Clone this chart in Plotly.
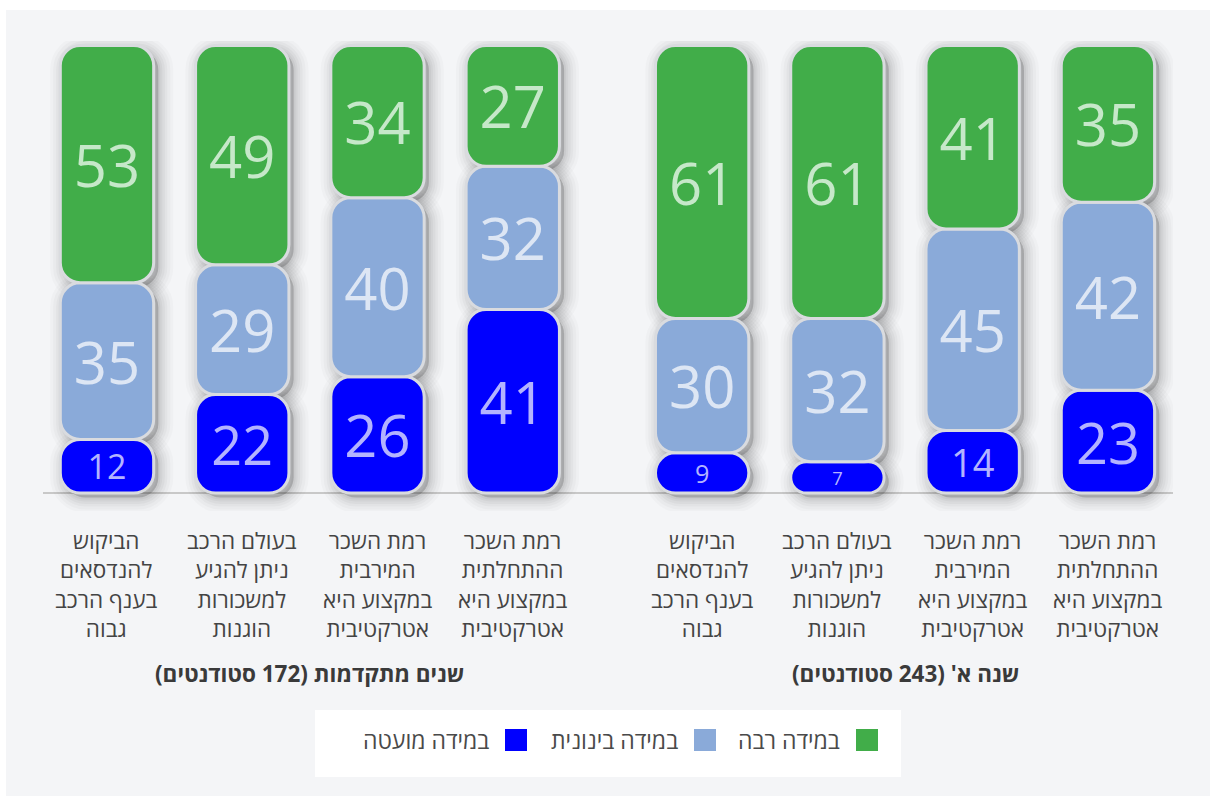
import plotly.graph_objects as go

# ---- data -------------------------------------------------------------
group_titles = ["שנה א' (243 סטודנטים)", "שנים מתקדמות (172 סטודנטים)"]

# statements in reading order (right to left)
statements = [
    "רמת השכר<br>ההתחלתית<br>במקצוע היא<br>אטרקטיבית",
    "רמת השכר<br>המירבית<br>במקצוע היא<br>אטרקטיבית",
    "בעולם הרכב<br>ניתן להגיע<br>למשכורות<br>הוגנות",
    "הביקוש<br>להנדסאים<br>בענף הרכב<br>גבוה",
]

levels = ["במידה רבה", "במידה בינונית", "במידה מועטה"]

first_year_high = [35, 41, 61, 61]
first_year_mid = [42, 45, 32, 30]
first_year_low = [23, 14, 7, 9]

advanced_high = [27, 34, 49, 53]
advanced_mid = [32, 40, 29, 35]
advanced_low = [41, 26, 22, 12]

# ---- styling ------------------------------------------------------------
colors = ["#41ad49", "#8aaad9", "#0000ff"]
label_colors = ["#c6e8c9", "#dde6f4", "#b3b3ff"]
panel_color = "#f4f5f7"
gap_color = "#d9dbdf"
font = "Open Sans, DejaVu Sans, sans-serif"

W, H = 1210, 796
ML, MR, MT, MB = 43, 37, 41, 285
plot_w = W - ML - MR
plot_h = H - MT - MB


def px_x(px):
    return (px - ML) / plot_w


def px_y(py):
    return (H - MB - py) / plot_h


def rtl(s):
    return "\u200f" + s + "\u200f"


# bar slots: first-year group on the right, advanced group on the left,
# each read right to left
group_slots = [[7.4, 6.4, 5.4, 4.4], [3.0, 2.0, 1.0, 0.0]]
xs = group_slots[0] + group_slots[1]

low = first_year_low + advanced_low
mid = first_year_mid + advanced_mid
high = first_year_high + advanced_high

bases = {
    2: [0] * len(low),
    1: list(low),
    0: [a + b for a, b in zip(low, mid)],
}
values = {0: high, 1: mid, 2: low}

bar_width = 0.69
radius = 20

fig = go.Figure()

# soft drop shadows behind every segment, nudged right and down
shadow_dx, shadow_dy = 0.035, 1.0
shadow_layers = [(30, 0.018), (24, 0.022), (18, 0.026), (13, 0.03),
                 (8, 0.034), (4, 0.04)]
for lw, alpha in shadow_layers:
    for k in (2, 1, 0):
        fig.add_trace(go.Bar(
            x=[x + shadow_dx for x in xs],
            y=values[k],
            base=[b - shadow_dy for b in bases[k]],
            width=bar_width,
            marker=dict(color=f"rgba(0,0,0,{alpha})",
                        line=dict(color=f"rgba(0,0,0,{alpha})", width=lw),
                        cornerradius=radius),
            hoverinfo="skip",
            showlegend=False,
        ))


def label_size(v):
    return min(58, 10 + 2.0 * v)


for k in (2, 1, 0):
    fig.add_trace(go.Bar(
        name=levels[k],
        x=xs,
        y=values[k],
        base=bases[k],
        width=bar_width,
        text=[str(v) for v in values[k]],
        textposition="inside",
        insidetextanchor="middle",
        textangle=0,
        constraintext="none",
        textfont=dict(family=font, color=label_colors[k],
                      size=[label_size(v) for v in values[k]]),
        marker=dict(color=colors[k],
                    line=dict(color=gap_color, width=3),
                    cornerradius=radius),
        showlegend=False,
    ))

# ---- category and group labels -----------------------------------------
annotations = []
for slots in group_slots:
    for x, txt in zip(slots, statements):
        annotations.append(dict(
            x=x, xref="x", y=0, yref="paper", yanchor="top", yshift=-12,
            text=txt, showarrow=False, align="center",
            font=dict(family=font, size=22.5, color="#444444"),
        ))

for slots, title in zip(group_slots, group_titles):
    annotations.append(dict(
        x=sum(slots) / len(slots), xref="x", y=px_y(673), yref="paper",
        yanchor="middle", text="<b>" + rtl(title) + "</b>", showarrow=False,
        font=dict(family=font, size=22.5, color="#3a3a3a"),
    ))

# ---- legend (right-to-left order) ----------------------------------------
shapes = [
    dict(type="rect", xref="paper", yref="paper", layer="below",
         x0=px_x(6), x1=px_x(W + 2), y0=px_y(10), y1=px_y(H + 2),
         fillcolor=panel_color, line=dict(width=0)),
    dict(type="rect", xref="paper", yref="paper", layer="below",
         x0=px_x(315), x1=px_x(901), y0=px_y(710), y1=px_y(777),
         fillcolor="white", line=dict(width=0)),
]
legend_square_right = [878, 716, 527]
for k, right in enumerate(legend_square_right):
    shapes.append(dict(
        type="rect", xref="paper", yref="paper",
        x0=px_x(right - 22), x1=px_x(right), y0=px_y(729), y1=px_y(751),
        fillcolor=colors[k], line=dict(width=0),
    ))
    annotations.append(dict(
        x=px_x(right - 36), xref="paper", y=px_y(740), yref="paper",
        xanchor="right", yanchor="middle", text=levels[k], showarrow=False,
        font=dict(family=font, size=23, color="#4a4a4a"),
    ))

fig.update_layout(
    width=W, height=H,
    margin=dict(l=ML, r=MR, t=MT, b=MB),
    paper_bgcolor="white",
    plot_bgcolor="rgba(0,0,0,0)",
    barmode="overlay",
    showlegend=False,
    xaxis=dict(range=[-0.473, 7.881], showgrid=False, zeroline=False,
               showticklabels=False, showline=False, fixedrange=True),
    yaxis=dict(range=[-4, 101], showgrid=False, showticklabels=False,
               zeroline=True, zerolinecolor="#c8c8c8", zerolinewidth=2,
               showline=False, fixedrange=True),
    annotations=annotations,
    shapes=shapes,
    font=dict(family=font),
)

fig.write_html("out.html")
